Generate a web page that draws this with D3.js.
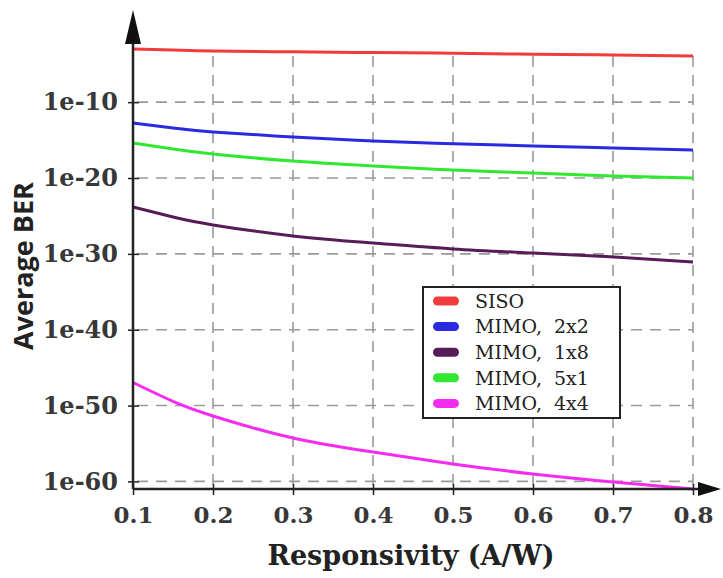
<!DOCTYPE html>
<html>
<head>
<meta charset="utf-8">
<script src="https://cdn.jsdelivr.net/npm/d3@7"></script>
<style>
  body { margin: 0; background: #fff; }
  .grid line { stroke: #9a9a9a; stroke-width: 1.6; stroke-dasharray: 11,8; }
  .curve { fill: none; stroke-width: 3; }
</style>
</head>
<body>
<svg id="chart"></svg>
<script>
// datos (BER promedio vs responsividad)
var responsividad = [0.1, 0.15, 0.2, 0.3, 0.4, 0.5, 0.6, 0.7, 0.8];

var siso    = [1.0e-3, 7.6e-4, 5.6e-4, 4.3e-4, 3.4e-4, 2.8e-4, 2.1e-4, 1.7e-4, 1.2e-4];
var mimo2x2 = [1.8e-13, 3.9e-14, 1.2e-14, 2.6e-15, 7.8e-16, 3.2e-16, 1.7e-16, 9.3e-17, 5.1e-17];
var mimo1x8 = [1.5e-24, 7.2e-26, 6.5e-27, 2.3e-28, 2.7e-29, 4.4e-30, 1.3e-30, 3.9e-31, 8.5e-32];
var mimo5x1 = [4.2e-16, 6.8e-17, 1.5e-17, 1.7e-18, 3.8e-19, 1.1e-19, 4.6e-20, 1.9e-20, 1.0e-20];
var mimo4x4 = [1.1e-47, 3.5e-50, 4.2e-52, 5.2e-55, 7.6e-57, 2.0e-58, 9.5e-60, 8.3e-61, 1.0e-61];

var nombres = ["SISO", "MIMO,  2x2", "MIMO,  1x8", "MIMO,  5x1", "MIMO,  4x4"];
var colores = ["#f23c3c", "#2a2ae0", "#561c57", "#30e830", "#f52cf0"];

var xTicks = [0.1, 0.2, 0.3, 0.4, 0.5, 0.6, 0.7, 0.8];
var yTicks = [1e-10, 1e-20, 1e-30, 1e-40, 1e-50, 1e-60];
var yTickLabels = ["1e-10", "1e-20", "1e-30", "1e-40", "1e-50", "1e-60"];

var w = 723;
var h = 578;

// bordes del area del grafico
var mLeft = 133, mRight = 693, mTop = 43, mBottom = 489;

var xScale = d3.scaleLinear()
               .domain([0.1, 0.8])
               .range([mLeft, mRight]);

var yScale = d3.scaleLog()
               .domain([1e-61, Math.pow(10, -2.2)])
               .range([mBottom, mTop]);

var svg = d3.select("#chart")
            .attr("width", w)
            .attr("height", h);

// cuadricula horizontal
svg.append("g")
   .attr("class", "grid")
   .selectAll("line")
   .data(yTicks)
   .enter().append("line")
   .attr("x1", mLeft + 4)
   .attr("x2", mRight)
   .attr("y1", d => yScale(d))
   .attr("y2", d => yScale(d));

// cuadricula vertical
svg.append("g")
   .attr("class", "grid")
   .selectAll("line")
   .data(xTicks.slice(1))
   .enter().append("line")
   .attr("x1", d => xScale(d))
   .attr("x2", d => xScale(d))
   .attr("y1", mBottom - 4)
   .attr("y2", 52);

// curvas
var series = [siso, mimo2x2, mimo1x8, mimo5x1, mimo4x4];

var line = d3.line()
             .x(d => xScale(d[0]))
             .y(d => yScale(d[1]))
             .curve(d3.curveNatural);

series.forEach(function(s, i) {
    svg.append("path")
       .datum(responsividad.map((x, j) => [x, s[j]]))
       .attr("class", "curve")
       .attr("stroke", colores[i])
       .attr("d", line);
});

// ejes
var xAxis = d3.axisBottom(xScale)
              .tickValues(xTicks)
              .tickFormat(d3.format(".1f"))
              .tickSizeOuter(0)
              .tickSizeInner(6);

var yAxis = d3.axisLeft(yScale)
              .tickValues(yTicks)
              .tickFormat((d, i) => yTickLabels[i])
              .tickSizeOuter(0)
              .tickSizeInner(5);

var gx = svg.append("g")
   .attr("transform", "translate(0," + mBottom + ")")
   .call(xAxis);

gx.select(".domain").remove();
gx.selectAll(".tick line").attr("y1", -5).attr("y2", 6).attr("stroke", "#222").attr("stroke-width", 1.5);
gx.selectAll(".tick text")
  .attr("y", 18)
  .attr("dy", "0.71em")
  .style("font-family", "DejaVu Serif")
  .style("font-weight", "bold")
  .style("font-size", "23px")
  .attr("fill", "#383838");

var gy = svg.append("g")
   .attr("transform", "translate(" + mLeft + ",0)")
   .call(yAxis);

gy.select(".domain").remove();
gy.selectAll(".tick line").attr("x1", -5).attr("x2", 6).attr("stroke", "#222").attr("stroke-width", 1.5);
gy.selectAll(".tick text")
  .attr("x", -15)
  .style("font-family", "DejaVu Serif")
  .style("font-weight", "bold")
  .style("font-size", "24px")
  .attr("fill", "#383838");

// lineas de los ejes con flechas
svg.append("line")
   .attr("x1", mLeft).attr("x2", mLeft)
   .attr("y1", mBottom).attr("y2", mTop)
   .attr("stroke", "#222").attr("stroke-width", 2.5);

svg.append("line")
   .attr("x1", mLeft).attr("x2", 700)
   .attr("y1", mBottom).attr("y2", mBottom)
   .attr("stroke", "#222").attr("stroke-width", 2.5);

svg.append("path")
   .attr("d", "M" + mLeft + ",10 L" + (mLeft - 8) + "," + (mTop + 1) + " L" + (mLeft + 8) + "," + (mTop + 1) + " Z")
   .attr("fill", "#111");

svg.append("path")
   .attr("d", "M721," + mBottom + " L698," + (mBottom - 7) + " L698," + (mBottom + 7) + " Z")
   .attr("fill", "#111");

// etiquetas de los ejes
svg.append("text")
   .attr("x", 411)
   .attr("y", 565)
   .style("text-anchor", "middle")
   .style("font-family", "DejaVu Serif")
   .style("font-weight", "bold")
   .style("font-size", "27px")
   .attr("fill", "#222")
   .text("Responsivity (A/W)");

svg.append("text")
   .attr("transform", "translate(33,266) rotate(-90)")
   .style("text-anchor", "middle")
   .style("font-family", "Open Sans")
   .style("font-weight", "bold")
   .style("font-size", "27px")
   .attr("fill", "#222")
   .text("Average BER");

// leyenda
var legend = svg.append("g");

legend.append("rect")
      .attr("x", 423).attr("y", 287)
      .attr("width", 197).attr("height", 131)
      .attr("fill", "#fff")
      .attr("stroke", "#222")
      .attr("stroke-width", 2);

nombres.forEach(function(n, i) {
    var yy = 301 + i * 25.6;
    legend.append("rect")
          .attr("x", 433).attr("y", yy - 4.5)
          .attr("width", 26).attr("height", 9)
          .attr("rx", 4.5)
          .attr("fill", colores[i]);
    legend.append("text")
          .attr("x", 475).attr("y", yy)
          .attr("dy", "0.36em")
          .style("font-family", "DejaVu Serif")
          .style("font-size", "19px")
          .style("white-space", "pre")
          .attr("fill", "#222")
          .text(n);
});
</script>
</body>
</html>
